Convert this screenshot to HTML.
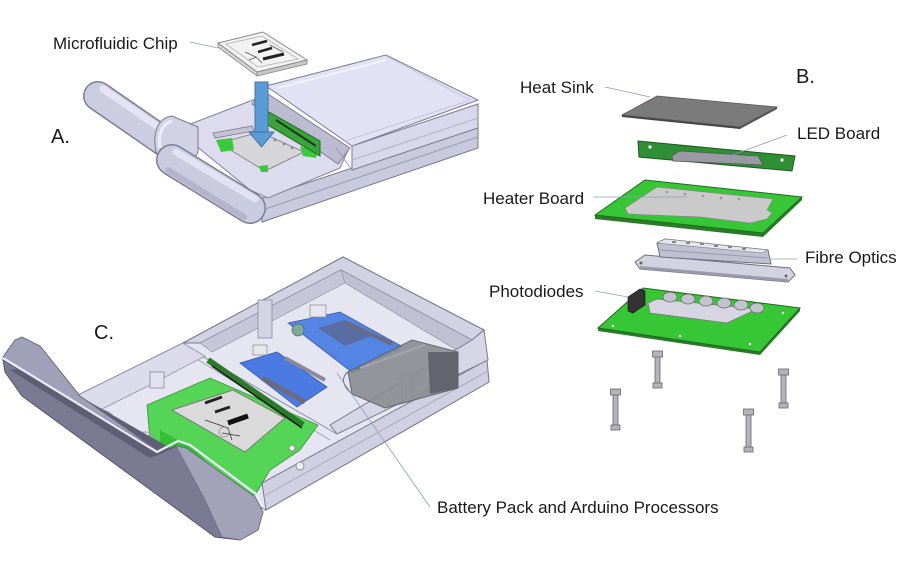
<!DOCTYPE html>
<html><head><meta charset="utf-8"><style>
html,body{margin:0;padding:0;background:#fff;}
svg{display:block;}
text{font-family:"Liberation Sans",Arial,sans-serif;fill:#1a1a1a;}
</style></head><body>
<svg width="913" height="580" viewBox="0 0 913 580" xmlns="http://www.w3.org/2000/svg">
<rect width="913" height="580" fill="#fff"/>

<!-- ================= DEVICE A ================= -->
<!-- handle upper tube -->
<line x1="98" y1="96" x2="166" y2="143" stroke="#7c7c94" stroke-width="30" stroke-linecap="round"/>
<line x1="98" y1="96" x2="166" y2="143" stroke="#cdcde2" stroke-width="27" stroke-linecap="round"/>
<line x1="103" y1="89" x2="170" y2="135" stroke="#e4e4f3" stroke-width="7" stroke-linecap="round"/>
<!-- body front band -->
<polygon points="262,198 478,126 478,148 262,222" fill="#cacade" stroke="#77778f" stroke-width="1"/>
<line x1="262" y1="210" x2="478" y2="137" stroke="#9a9ab0" stroke-width="1"/>
<!-- tray deck -->
<polygon points="180,128 258,98 270,96 348,150 340,168 268,198 250,190 195,145" fill="#dcdcee" stroke="#80809a" stroke-width="1"/>
<!-- latch bar -->
<polygon points="213,133 252,126 254,131 215,138" fill="#c2c2d0" stroke="#7a7a8e" stroke-width="0.8"/>
<!-- plate -->
<polygon points="219,143 260,132 304,152 265,171" fill="#d6d6d8" stroke="#8a8a8a" stroke-width="1"/>
<polygon points="216,140 232,138 234,150 221,152" fill="#3cc83c"/>
<polygon points="300,146 318,152 316,158 303,156" fill="#3cc83c"/>
<polygon points="259,166 268,165 268,172 261,172" fill="#3cc83c"/>
<circle cx="275" cy="140" r="1.3" fill="#888"/><circle cx="284" cy="144" r="1.3" fill="#888"/><circle cx="292" cy="148" r="1.3" fill="#888"/>
<!-- lid wall -->
<polygon points="262,90 350,148 338,164 252,104" fill="#bcbcd0" stroke="#7c7c94" stroke-width="1"/>
<!-- green LED board in A -->
<polygon points="269,112 320,141 320,156 266,124" fill="#3aa43a" stroke="#1f6a1f" stroke-width="1"/>
<line x1="276" y1="120" x2="316" y2="146" stroke="#1a3a1a" stroke-width="2"/>
<!-- lid front face -->
<polygon points="352,146 478,104 478,128 352,170" fill="#d8d8ec" stroke="#7a7a92" stroke-width="1"/>
<line x1="352" y1="160" x2="478" y2="118" stroke="#b0b0c6" stroke-width="1"/>
<!-- lid top -->
<polygon points="266,86 386,55 478,100 352,146" fill="#e2e2f4" stroke="#7a7a92" stroke-width="1"/>
<line x1="278" y1="88" x2="386" y2="60" stroke="#f2f2fa" stroke-width="2"/>
<line x1="345" y1="141" x2="468" y2="101" stroke="#c4c4da" stroke-width="1"/>
<line x1="386" y1="56" x2="470" y2="100" stroke="#c8c8dc" stroke-width="1"/>
<line x1="336" y1="148" x2="352" y2="170" stroke="#9a9ab2" stroke-width="1"/>
<!-- hinge block -->
<path d="M156,152 C152,132 158,118 172,116 L198,127 L198,152 C192,168 170,170 156,152 Z" fill="#d2d2e6" stroke="#7a7a92" stroke-width="1"/>
<path d="M160,148 C158,134 162,124 172,121" fill="none" stroke="#eeeef8" stroke-width="3"/>
<!-- handle lower tube -->
<line x1="172" y1="160" x2="250" y2="208" stroke="#7c7c94" stroke-width="32" stroke-linecap="round"/>
<line x1="172" y1="160" x2="250" y2="208" stroke="#cbcbe0" stroke-width="29" stroke-linecap="round"/>
<line x1="176" y1="152" x2="255" y2="199" stroke="#e2e2f2" stroke-width="7" stroke-linecap="round"/>
<line x1="168" y1="170" x2="244" y2="217" stroke="#b4b4ca" stroke-width="6" stroke-linecap="round"/>

<!-- blue arrow -->
<rect x="255" y="82" width="13" height="51" fill="#5b9bd5" stroke="#4475a8" stroke-width="1"/>
<polygon points="249,132 274,132 261.5,147" fill="#5b9bd5" stroke="#4475a8" stroke-width="1"/>

<!-- microfluidic chip -->
<polygon points="218,43 257,72 257,76 218,47" fill="#d6d6d6" stroke="#8a8a8a" stroke-width="0.8"/>
<polygon points="257,72 307,60 307,64 257,76" fill="#c8c8c8" stroke="#8a8a8a" stroke-width="0.8"/>
<polygon points="218,43 263,32 307,60 257,72" fill="#f2f2f2" stroke="#8a8a8a" stroke-width="1"/>
<polygon points="226,44 262,36 298,59 258,67" fill="none" stroke="#b0b0b0" stroke-width="0.8"/>
<line x1="252" y1="45" x2="267" y2="41" stroke="#222" stroke-width="2.5"/>
<line x1="258" y1="52" x2="272" y2="48" stroke="#222" stroke-width="2.5"/>
<line x1="263" y1="59" x2="284" y2="54" stroke="#222" stroke-width="3"/>
<path d="M245,52 L256,57 L262,63 M270,45 L283,52 M249,60 L256,57" fill="none" stroke="#555" stroke-width="0.8"/>

<!-- labels A -->
<line x1="190" y1="42" x2="218" y2="48" stroke="#8aa0b8" stroke-width="0.8"/>
<text x="53" y="49" font-size="17">Microfluidic Chip</text>
<text x="51" y="143" font-size="20">A.</text>

<!-- ================= DEVICE B ================= -->
<!-- heat sink -->
<polygon points="622,115 740,127 740,129 622,117" fill="#444"/>
<polygon points="740,127 777,107 777,109 740,129" fill="#555"/>
<polygon points="622,115 657,96 777,107 740,127" fill="#7b7b7b" stroke="#555" stroke-width="0.8"/>
<line x1="605" y1="87" x2="650" y2="97" stroke="#8aa0b8" stroke-width="0.8"/>
<text x="520" y="93" font-size="17">Heat Sink</text>
<text x="796" y="83" font-size="20">B.</text>

<!-- LED board -->
<polygon points="638,141 795,156 792,171 639,157" fill="#2f8f35" stroke="#1a5a1e" stroke-width="1"/>
<polygon points="672,156 680,151 758,156 763,165 673,161" fill="#9a9aa4" stroke="#555" stroke-width="0.7"/>
<circle cx="650" cy="147" r="1.6" fill="#fff"/><circle cx="782" cy="160" r="1.6" fill="#fff"/>
<line x1="787" y1="135" x2="727" y2="157" stroke="#8aa0b8" stroke-width="0.8"/>
<text x="797" y="139" font-size="17">LED Board</text>

<!-- heater board -->
<polygon points="595,215 763,233 763,237 595,219" fill="#2a7a2a"/>
<polygon points="763,233 802,197 802,200 763,237" fill="#2a7a2a"/>
<polygon points="595,215 645,180 802,197 763,233" fill="#36c636" stroke="#1f6a1f" stroke-width="1"/>
<polygon points="625,208 657,187 773,199 767,210 772,213 767,219 750,223 700,217 628,214" fill="#cacaca" stroke="#888" stroke-width="0.7"/>
<g fill="#999"><circle cx="667" cy="192" r="1.3"/><circle cx="685" cy="194" r="1.3"/><circle cx="703" cy="196" r="1.3"/><circle cx="721" cy="198" r="1.3"/><circle cx="739" cy="199" r="1.3"/></g>
<line x1="593" y1="197" x2="687" y2="197" stroke="#8aa0b8" stroke-width="0.8"/>
<text x="483" y="204" font-size="17">Heater Board</text>

<!-- fibre optics -->
<polygon points="635,262 645,255 790,268 795,275 788,282 640,269" fill="#d2d2e0" stroke="#6e6e80" stroke-width="1"/>
<polygon points="640,266 788,279 788,282 640,269" fill="#9a9aac"/>
<polygon points="657,243 665,239 768,250 771,264 660,257" fill="#c0c0d2" stroke="#6e6e80" stroke-width="1"/>
<polygon points="657,243 665,239 768,250 762,253" fill="#e6e6f0" stroke="#777" stroke-width="0.6"/>
<line x1="660" y1="250" x2="768" y2="258" stroke="#9a9aac" stroke-width="1"/>
<g fill="#888"><rect x="672" y="241" width="4" height="2"/><rect x="686" y="242" width="4" height="2"/><rect x="700" y="243" width="4" height="2"/><rect x="714" y="245" width="4" height="2"/><rect x="728" y="246" width="4" height="2"/><rect x="742" y="248" width="4" height="2"/></g>
<circle cx="641" cy="263" r="1.5" fill="#666"/><circle cx="786" cy="276" r="1.5" fill="#666"/>
<line x1="770" y1="259" x2="797" y2="259" stroke="#8aa0b8" stroke-width="0.8"/>
<text x="805" y="263" font-size="17">Fibre Optics</text>

<!-- photodiode board -->
<polygon points="598,328 760,352 760,355 598,331" fill="#2a7a2a"/>
<polygon points="760,352 800,308 800,311 760,355" fill="#2a7a2a"/>
<polygon points="598,328 643,288 800,308 760,352" fill="#36c636" stroke="#1f6a1f" stroke-width="1"/>
<polygon points="648,303 657,299 757,309 727,323 650,313" fill="#d6d6e2" stroke="#777" stroke-width="0.7"/>
<g fill="#c4c4d0" stroke="#666" stroke-width="0.7">
<ellipse cx="670" cy="297" rx="7" ry="5"/><ellipse cx="688" cy="299" rx="7" ry="5"/><ellipse cx="706" cy="301" rx="7" ry="5"/><ellipse cx="724" cy="303" rx="7" ry="5"/><ellipse cx="741" cy="305" rx="7" ry="5"/><ellipse cx="757" cy="308" rx="7" ry="5"/>
</g>
<polygon points="628,297 640,289 645,291 645,305 633,313 628,311" fill="#333" stroke="#111" stroke-width="0.6"/>
<g fill="#fff"><circle cx="613" cy="326" r="1.2"/><circle cx="680" cy="336" r="1.2"/><circle cx="750" cy="344" r="1.2"/><circle cx="783" cy="313" r="1.2"/></g>
<line x1="595" y1="291" x2="628" y2="297" stroke="#8aa0b8" stroke-width="0.8"/>
<text x="489" y="297" font-size="17">Photodiodes</text>

<!-- bolts -->
<g fill="#b4b4be" stroke="#666" stroke-width="0.8">
<rect x="655" y="355" width="5" height="32"/><rect x="652.5" y="351" width="10" height="6"/><rect x="653" y="383" width="9" height="5"/>
<rect x="613" y="393" width="5" height="36"/><rect x="610.5" y="389" width="10" height="6"/><rect x="611" y="425" width="9" height="5"/>
<rect x="746" y="413" width="5" height="38"/><rect x="743.5" y="409" width="10" height="6"/><rect x="744" y="447" width="9" height="5"/>
<rect x="781" y="373" width="5" height="34"/><rect x="778.5" y="369" width="10" height="6"/><rect x="779" y="403" width="9" height="5"/>
</g>

<!-- ================= DEVICE C ================= -->
<!-- body silhouette -->
<polygon points="72,398 183,343 343,257 484,330 489,382 266,510 250,502" fill="#e6e6f2" stroke="#70708a" stroke-width="1"/>
<!-- front band -->
<polygon points="262,483 487,360 489,382 266,510" fill="#d0d0e2" stroke="#7a7a92" stroke-width="1"/>
<line x1="264" y1="496" x2="488" y2="371" stroke="#a8a8bc" stroke-width="1"/>
<!-- lid top rim -->
<polygon points="183,343 343,257 484,330 472,340 341,270 200,343" fill="#d2d2e2" stroke="#7a7a92" stroke-width="1"/>
<!-- inner back-left wall -->
<polygon points="200,343 341,270 345,283 212,352" fill="#c6c6d8" stroke="#9090a8" stroke-width="0.7"/>
<!-- inner back-right wall -->
<polygon points="341,270 472,340 460,352 345,283" fill="#c0c0d2" stroke="#9090a8" stroke-width="0.7"/>
<!-- lid right/front rim -->
<polygon points="472,340 484,330 488,360 337,434 330,425" fill="#d6d6e6" stroke="#7a7a92" stroke-width="1"/>
<line x1="183" y1="345" x2="337" y2="434" stroke="#8a8aa2" stroke-width="1"/>
<line x1="190" y1="355" x2="330" y2="440" stroke="#a0a0b6" stroke-width="1"/>
<!-- pillars -->
<rect x="258" y="300" width="14" height="38" fill="#d4d4e4" stroke="#8a8aa0" stroke-width="0.8"/>
<rect x="402" y="372" width="10" height="30" fill="#d0d0e0" stroke="#8a8aa0" stroke-width="0.8"/>
<!-- blue board upper -->
<polygon points="288,323 340,312 403,347 353,373" fill="#5585e4" stroke="#3a5aa8" stroke-width="0.8"/>
<polygon points="318,328 345,320 372,336 345,346" fill="#5a5a70" opacity="0.55"/>
<line x1="345" y1="322" x2="392" y2="344" stroke="#6a6a80" stroke-width="4"/>
<rect x="310" y="305" width="16" height="12" fill="#e6e6ee" stroke="#888" stroke-width="0.7"/>
<circle cx="298" cy="330" r="6" fill="#7aaa9a" stroke="#555" stroke-width="0.6"/>
<!-- blue board lower -->
<polygon points="240,363 277,352 327,387 297,407" fill="#4a7ae2" stroke="#3a5aa8" stroke-width="0.8"/>
<line x1="262" y1="378" x2="305" y2="402" stroke="#6a6a80" stroke-width="5"/>
<rect x="253" y="345" width="14" height="10" fill="#e6e6ee" stroke="#888" stroke-width="0.7"/>
<line x1="285" y1="358" x2="325" y2="380" stroke="#8a8a9c" stroke-width="4"/>
<!-- battery -->
<polygon points="348,372 412,340 458,352 458,388 385,408 352,394" fill="#8c8c94" stroke="#5a5a66" stroke-width="1" opacity="0.9"/>
<path d="M352,394 C338,382 342,370 360,368" fill="none" stroke="#6a6a74" stroke-width="1"/>
<polygon points="428,352 458,352 458,388 430,394" fill="#5c5c66" opacity="0.85"/>
<line x1="360" y1="368" x2="425" y2="345" stroke="#a4a4ae" stroke-width="2"/>
<!-- green board -->
<polygon points="147,405 210,378 318,425 300,450 270,470 255,495 225,490 150,440" fill="#48d448" stroke="#2a8a2a" stroke-width="0.8" opacity="0.92"/>
<polygon points="160,430 195,450 215,470 200,470 160,445" fill="#2ab82a" opacity="0.8"/>
<!-- chip in C -->
<polygon points="172,410 233,390 285,418 245,452" fill="#dadada" stroke="#777" stroke-width="1"/>
<line x1="205" y1="403" x2="222" y2="397" stroke="#222" stroke-width="3"/>
<line x1="215" y1="412" x2="230" y2="407" stroke="#222" stroke-width="3"/>
<line x1="228" y1="423" x2="248" y2="416" stroke="#111" stroke-width="5"/>
<path d="M205,420 L228,428 L232,440 M222,433 L240,436" fill="none" stroke="#333" stroke-width="0.8"/>
<circle cx="224" cy="432" r="5" fill="none" stroke="#888" stroke-width="0.7"/>
<!-- LED bar C -->
<line x1="208" y1="360" x2="303" y2="425" stroke="#2a7a2a" stroke-width="6"/>
<line x1="212" y1="366" x2="302" y2="428" stroke="#1a1a1a" stroke-width="1.5"/>
<!-- left deck near hinge -->
<polygon points="72,398 183,343 205,356 150,385 100,410" fill="#dadaea" stroke="#8a8aa2" stroke-width="0.8" opacity="0.9"/>
<rect x="150" y="372" width="14" height="16" fill="#e2e2ee" stroke="#8a8aa0" stroke-width="0.8"/>
<ellipse cx="100" cy="420" rx="14" ry="10" fill="none" stroke="#9a9ab0" stroke-width="1"/>
<ellipse cx="145" cy="440" rx="10" ry="8" fill="none" stroke="#9a9ab0" stroke-width="1"/>
<circle cx="300" cy="466" r="4" fill="#eee" stroke="#777" stroke-width="0.7"/>
<circle cx="292" cy="448" r="3" fill="#eee" stroke="#777" stroke-width="0.7"/>

<!-- handle C -->
<polygon points="3,360 157,455 176,446 186,448 255,497 263,512 258,530 240,540 215,537 200,526 22,396 5,372" fill="#7a7a92" stroke="#55556a" stroke-width="1"/>
<polygon points="176,446 186,448 255,497 263,512 258,530 240,540 222,537 205,500" fill="#a2a2b8" stroke="#6a6a80" stroke-width="0.7"/>
<polygon points="10,370 150,458 172,449 30,368" fill="#5e5e74"/>
<polygon points="3,357 15,340 22,337 40,346 80,396 157,450 3,359" fill="#a0a0b8" stroke="#6a6a80" stroke-width="1"/>
<polyline points="3,358 157,452 178,441 190,445 256,494 264,508" fill="none" stroke="#ececf6" stroke-width="2.2"/>

<!-- labels C -->
<line x1="337" y1="373" x2="430" y2="507" stroke="#8aa0b8" stroke-width="0.8"/>
<text x="94" y="339" font-size="20">C.</text>
<text x="437" y="513" font-size="17">Battery Pack and Arduino Processors</text>
</svg>
</body></html>
